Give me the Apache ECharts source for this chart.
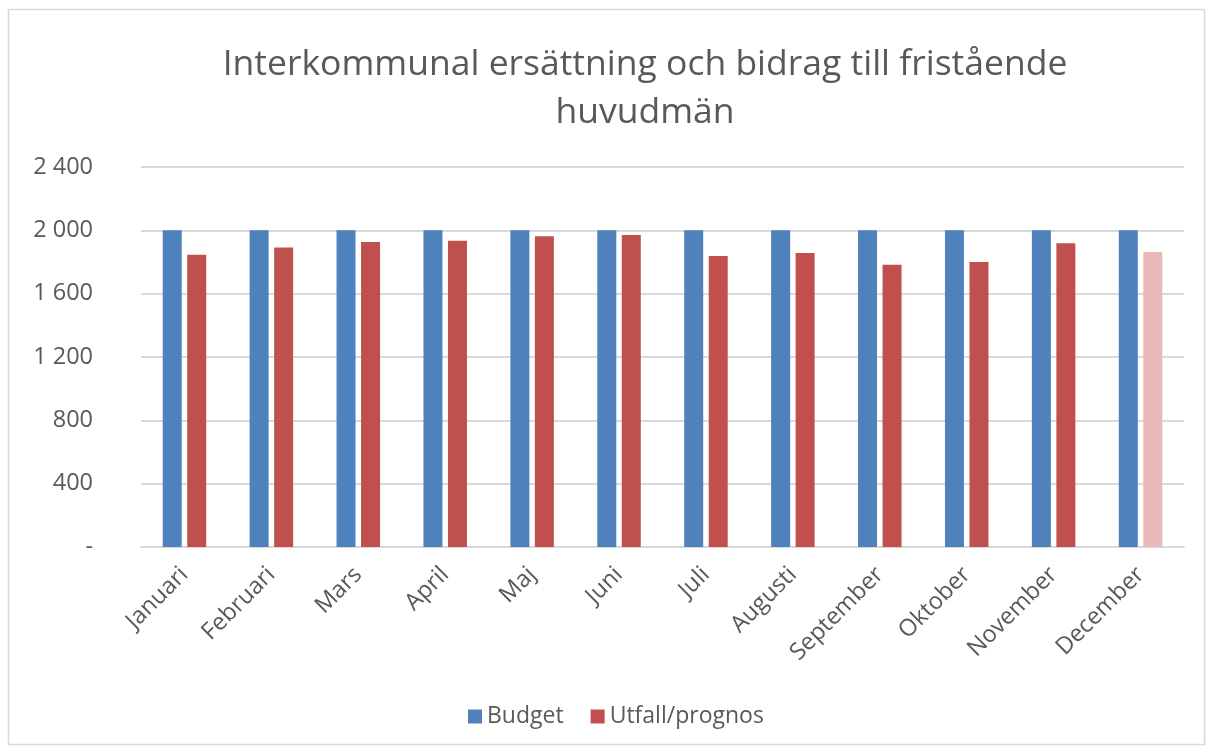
<!DOCTYPE html>
<html>
<head>
<meta charset="utf-8">
<script src="https://cdn.jsdelivr.net/npm/echarts@6/dist/echarts.min.js"></script>
<style>
html,body{margin:0;padding:0;background:#fff;}
#c{width:1214px;height:749px;}
</style>
</head>
<body>
<div id="c"></div>
<script>
const months = ['Januari','Februari','Mars','April','Maj','Juni','Juli','Augusti','September','Oktober','November','December'];
const budget = [2000,2000,2000,2000,2000,2000,2000,2000,2000,2000,2000,2000];
const utfall = [1846,1891,1926,1935,1962,1971,1838,1857,1783,1800,1918,1863];
const yTicks = [0,400,800,1200,1600,2000,2400];
const titleText = 'Interkommunal ersättning och bidrag till fristående\nhuvudmän';

const FONT = 'Open Sans';
const chart = echarts.init(document.getElementById('c'), null, {renderer:'canvas'});
const fmt = v => v === 0 ? '-' : String(v).replace(/\B(?=(\d{3})+(?!\d))/g, ' ');

chart.setOption({
  animation:false,
  backgroundColor:'#fff',
  textStyle:{fontFamily:FONT},
  graphic:[{type:'rect',shape:{x:8.5,y:9.5,width:1196,height:735},style:{fill:'none',stroke:'#d9d9d9',lineWidth:1.5},silent:true}],
  title:{
    text:titleText,
    left:640, top:36, textAlign:'center',
    textStyle:{fontFamily:FONT,fontSize:35.5,fontWeight:'normal',color:'#595959',lineHeight:48}
  },
  legend:{
    left:463, top:700,
    itemWidth:14, itemHeight:14, itemGap:27,
    icon:'rect',
    textStyle:{fontFamily:FONT,fontSize:23,color:'#595959'},
    data:['Budget','Utfall/prognos']
  },
  grid:{left:141,right:30,top:167,bottom:202,containLabel:false},
  xAxis:{
    type:'category',
    data:months,
    axisTick:{show:false},
    axisLine:{lineStyle:{color:'#d9d9d9',width:2}},
    axisLabel:{rotate:45,margin:24,fontFamily:FONT,fontSize:23.5,color:'#595959',interval:0,padding:[0,0,0,0]}
  },
  yAxis:{
    type:'value',
    min:yTicks[0], max:yTicks[yTicks.length-1], interval:400,
    axisLine:{show:false}, axisTick:{show:false},
    splitLine:{lineStyle:{color:'#d9d9d9',width:2}},
    axisLabel:{margin:48,fontFamily:FONT,fontSize:23.5,color:'#595959',formatter:fmt}
  },
  series:[
    {name:'Budget',type:'bar',data:budget,barWidth:19,barGap:'29%',itemStyle:{color:'#4f81bd'}},
    {name:'Utfall/prognos',type:'bar',data:utfall.map((v,i)=> i===11 ? {value:v,itemStyle:{color:'#e6b9b8'}} : v),barWidth:19,itemStyle:{color:'#c0504d'}}
  ]
});
</script>
</body>
</html>
